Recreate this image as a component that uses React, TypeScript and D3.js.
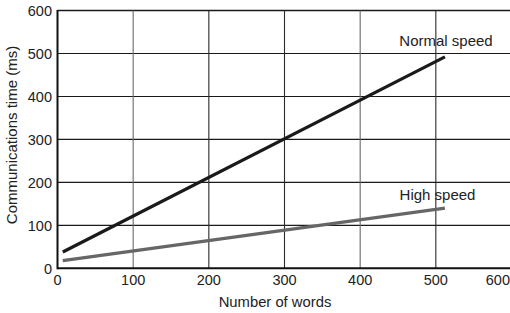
import React from "react";
import * as d3 from "d3";

const xTicks = [0, 100, 200, 300, 400, 500, 600];
const yTicks = [0, 100, 200, 300, 400, 500, 600];
const normalX = [7, 512];
const normalY = [38, 492];
const highX = [7, 512];
const highY = [18, 140];
const seriesNames = ["Normal speed", "High speed"];

const W = 510;
const H = 313;
const FONT = "'Liberation Sans', Arial, Helvetica, sans-serif";

export default function App() {
  const x = d3.scaleLinear().domain([0, 600]).range([57.5, 511.5]);
  const y = d3.scaleLinear().domain([0, 600]).range([268.3, 10.5]);
  const line = d3
    .line<[number, number]>()
    .x((d) => x(d[0]))
    .y((d) => y(d[1]));
  const normal: [number, number][] = normalX.map((v, i) => [v, normalY[i]]);
  const high: [number, number][] = highX.map((v, i) => [v, highY[i]]);
  const vColor = (v: number) => (v === 100 || v === 400 ? "#6a6a6a" : "#2a2a2a");

  return (
    <svg
      width={W}
      height={H}
      style={{ position: "absolute", left: 0, top: 0, background: "#fff" }}
      fontFamily={FONT}
    >
      {/* grid */}
      {yTicks
        .filter((t) => t > 0)
        .map((t) => (
          <line
            key={"h" + t}
            x1={x(0)}
            x2={W}
            y1={y(t)}
            y2={y(t)}
            stroke="#1a1a1a"
            strokeWidth={t === 600 ? 1.5 : 1.1}
          />
        ))}
      {xTicks
        .filter((t) => t > 0 && t < 600)
        .map((t) => (
          <line
            key={"v" + t}
            x1={x(t)}
            x2={x(t)}
            y1={y(600)}
            y2={y(0)}
            stroke={vColor(t)}
            strokeWidth={1.1}
          />
        ))}
      {/* axes */}
      <line x1={x(0)} x2={W} y1={y(0)} y2={y(0)} stroke="#111" strokeWidth={2} />
      <line x1={x(0)} x2={x(0)} y1={y(600) - 0.5} y2={y(0) + 1} stroke="#111" strokeWidth={2} />

      {/* series */}
      <path d={line(high) || ""} fill="none" stroke="#666" strokeWidth={3.2} />
      <path d={line(normal) || ""} fill="none" stroke="#1a1a1a" strokeWidth={3.2} />

      {/* series labels */}
      <text x={446} y={46} fontSize={15} textAnchor="middle" fill="#222">
        {seriesNames[0]}
      </text>
      <text x={437.5} y={199.5} fontSize={15} textAnchor="middle" fill="#222">
        {seriesNames[1]}
      </text>

      {/* tick labels */}
      {xTicks.map((t) => (
        <text
          key={"xl" + t}
          x={t === 600 ? W : x(t)}
          y={285}
          fontSize={14.5}
          textAnchor={t === 600 ? "end" : "middle"}
          fill="#222"
        >
          {t}
        </text>
      ))}
      {yTicks.map((t) => (
        <text
          key={"yl" + t}
          x={52}
          y={y(t)}
          dy="0.36em"
          fontSize={14.5}
          textAnchor="end"
          fill="#222"
        >
          {t}
        </text>
      ))}

      {/* axis titles */}
      <text x={275} y={307} fontSize={14.8} textAnchor="middle" fill="#222">
        Number of words
      </text>
      <text
        transform={`translate(16.5,${135}) rotate(-90)`}
        fontSize={15}
        textAnchor="middle"
        fill="#222"
      >
        Communications time (ms)
      </text>
    </svg>
  );
}
